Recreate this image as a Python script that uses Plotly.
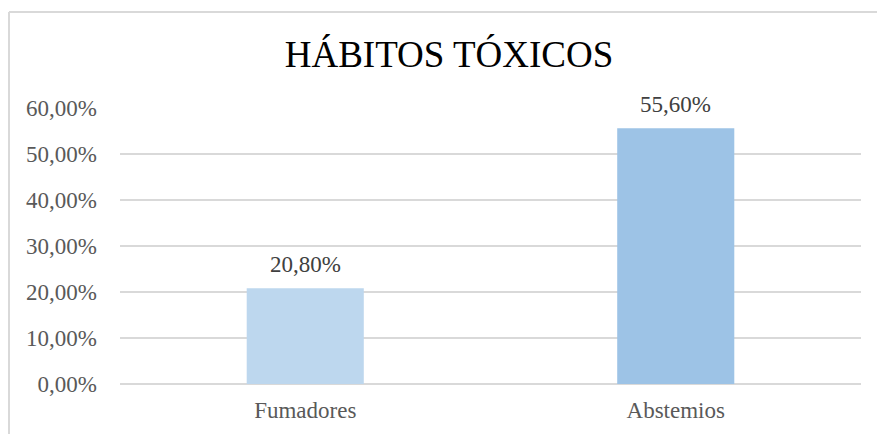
import plotly.graph_objects as go

categories = ["Fumadores", "Abstemios"]
values = [20.8, 55.6]
bar_colors = ["#BDD7EE", "#9DC3E6"]
tick_vals = [0, 10, 20, 30, 40, 50, 60]
tick_text = [f"{v:.2f}%".replace(".", ",") for v in tick_vals]
value_labels = [f"{v:.2f}%".replace(".", ",") for v in values]

W, H = 877, 434
L, R, T, B = 120, 16, 108, 50
pw, ph = W - L - R, H - T - B

def px_x(x):
    return (x - L) / pw

def px_y(y):
    return (H - B - y) / ph

FONT = "Liberation Serif"
FS = 23

fig = go.Figure(go.Bar(
    x=categories, y=values,
    marker=dict(color=bar_colors, line=dict(width=0)),
    width=0.316,
))

for c, v, t in zip(categories, values, value_labels):
    fig.add_annotation(x=c, y=v, text=t, showarrow=False, xanchor="center",
                       yanchor="bottom", yshift=9,
                       font=dict(family=FONT, size=FS, color="#404040"))

fig.update_layout(
    width=W, height=H,
    margin=dict(l=L, r=R, t=T, b=B),
    paper_bgcolor="white", plot_bgcolor="white",
    showlegend=False,
    title=dict(text="HÁBITOS TÓXICOS", x=449 / W, xanchor="center",
               y=1 - 54 / H, yanchor="middle", yref="container",
               font=dict(family=FONT, size=37, color="#000000")),
    xaxis=dict(showgrid=False, showline=False, ticks="",
               tickfont=dict(family=FONT, size=FS, color="#595959"),
               ticklabelstandoff=10),
    yaxis=dict(range=[0, 60], tickvals=tick_vals, ticktext=tick_text,
               showgrid=True, gridcolor="#D9D9D9", gridwidth=1.5,
               zeroline=True, zerolinecolor="#D9D9D9", zerolinewidth=1.5,
               showline=False, ticks="",
               tickfont=dict(family=FONT, size=FS, color="#595959"),
               ticklabelstandoff=22),
    shapes=[
        dict(type="line", xref="paper", yref="paper",
             x0=px_x(9), x1=px_x(9), y0=px_y(12), y1=px_y(H + 5),
             line=dict(color="#D9D9D9", width=2)),
        dict(type="line", xref="paper", yref="paper",
             x0=px_x(9), x1=px_x(W + 5), y0=px_y(12), y1=px_y(12),
             line=dict(color="#D9D9D9", width=2)),
    ],
)

fig.write_html("out.html", config={"displayModeBar": False},
               post_script="document.body.style.margin='0px';document.body.style.overflow='hidden';")
